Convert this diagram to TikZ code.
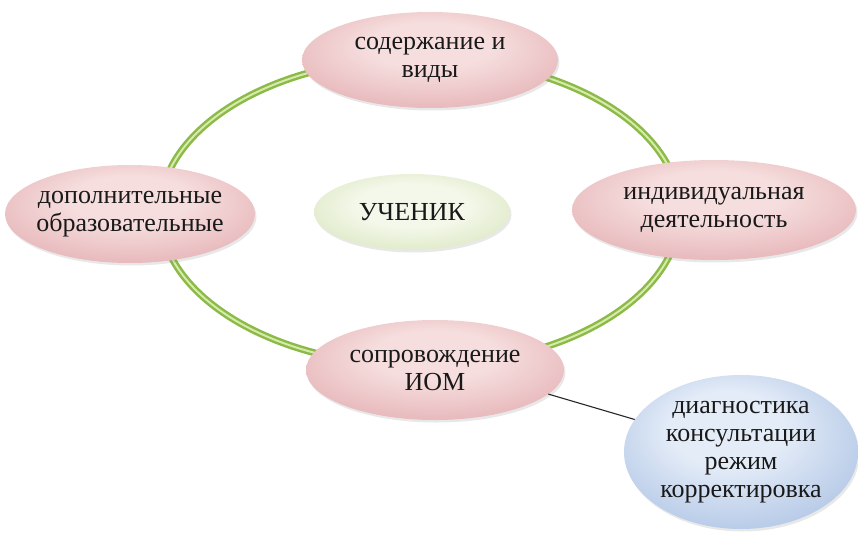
\documentclass[tikz,border=0pt]{standalone}
\usepackage{fontspec}
\setmainfont{Liberation Serif}
\usetikzlibrary{shapes.geometric, shadows, positioning}
\definecolor{pinkin}{RGB}{246,222,222}
\definecolor{pinkout}{RGB}{218,150,156}
\definecolor{leafin}{RGB}{244,248,234}
\definecolor{leafout}{RGB}{200,218,164}
\definecolor{skyin}{RGB}{228,236,248}
\definecolor{skyout}{RGB}{142,172,216}
\definecolor{ringgreen}{RGB}{140,186,72}
\definecolor{ringlight}{RGB}{214,234,170}
\pgfdeclareradialshading{pinkball}{\pgfpoint{0bp}{10bp}}{color(0bp)=(pinkin); color(12bp)=(pinkin); color(46bp)=(pinkout); color(50bp)=(pinkout)}
\pgfdeclareradialshading{leafball}{\pgfpoint{0bp}{6bp}}{color(0bp)=(leafin); color(14bp)=(leafin); color(46bp)=(leafout); color(50bp)=(leafout)}
\pgfdeclareradialshading{skyball}{\pgfpoint{-4bp}{10bp}}{color(0bp)=(skyin); color(12bp)=(skyin); color(46bp)=(skyout); color(50bp)=(skyout)}
\tikzset{
  blob/.style={ellipse, inner xsep=-20pt, inner ysep=-4pt, align=center, text=black!90,
    font=\fontsize{26}{28}\selectfont,
    drop shadow={shadow xshift=1.5pt, shadow yshift=-2.5pt, opacity=0.18}},
  pinkblob/.style={blob, shading=pinkball},
  leafblob/.style={blob, shading=leafball},
  skyblob/.style={blob, shading=skyball}
}

\begin{document}
\begin{tikzpicture}[x=1pt, y=-1pt]
  \useasboundingbox (0,0) rectangle (858,540);

  % Ring
  \draw[ringgreen, line width=7pt] (420,212) ellipse [x radius=260, y radius=154];
  \draw[ringlight, line width=2pt] (420,212) ellipse [x radius=260, y radius=154];

  % Nodes
  \node[pinkblob, minimum width=256pt, minimum height=96pt] (vidy) at (430,60) {содержание и\\виды};
  \node[pinkblob, minimum width=250pt, minimum height=98pt] (dop) at (130,214) {дополнительные\\образовательные};
  \node[leafblob, minimum width=196pt, minimum height=76pt] (uchenik) at (412,212) {УЧЕНИК};
  \node[pinkblob, minimum width=284pt, minimum height=100pt] (indiv) at (714,210) {индивидуальная\\деятельность};
  \node[pinkblob, minimum width=258pt, minimum height=100pt] (iom) at (435,370) {сопровождение\\ИОМ};
  \node[skyblob, minimum width=234pt, minimum height=154pt] (diag) at (741,452) {диагностика\\консультации\\режим\\корректировка};

  % Link
  \draw[black!85, line width=1.1pt] (iom.-12) -- (diag.163);
\end{tikzpicture}
\end{document}
